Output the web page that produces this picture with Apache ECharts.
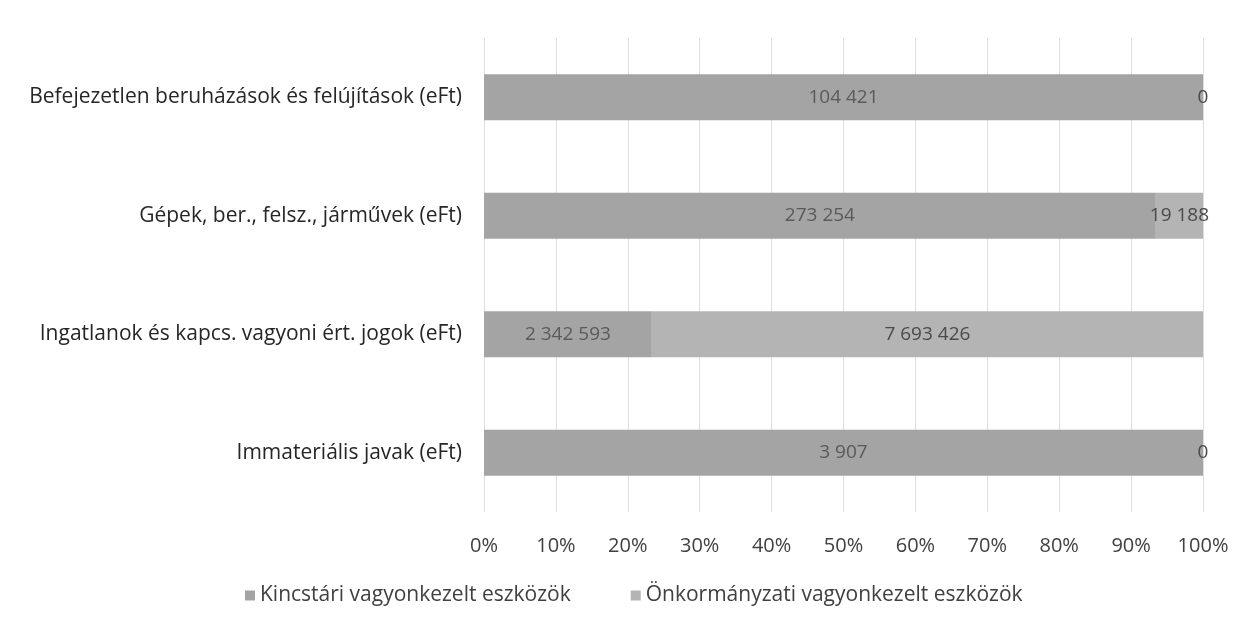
<!DOCTYPE html>
<html>
<head>
<meta charset="utf-8">
<script src="https://cdn.jsdelivr.net/npm/echarts@6/dist/echarts.min.js"></script>
<style>
  html, body { margin: 0; padding: 0; background: #fff; }
  #echarts { width: 1248px; height: 628px; }
</style>
</head>
<body>
<div id="echarts"></div>
<script>
// categories, bottom to top
var categories = [
    'Immateriális javak (eFt)',
    'Ingatlanok és kapcs. vagyoni ért. jogok (eFt)',
    'Gépek, ber., felsz., járművek (eFt)',
    'Befejezetlen beruházások és felújítások (eFt)'
];
var kincstari = [3907, 2342593, 273254, 104421];
var onkormanyzati = [0, 7693426, 19188, 0];
var seriesNames = ['Kincstári vagyonkezelt eszközök', 'Önkormányzati vagyonkezelt eszközök'];

var totals = categories.map(function (c, i) {
    return kincstari[i] + onkormanyzati[i];
});

function share(arr) {
    return arr.map(function (v, i) {
        return { value: totals[i] ? v / totals[i] : 0, raw: v };
    });
}

function fmt(n) {
    return String(n).replace(/\B(?=(\d{3})+(?!\d))/g, ' ');
}

var font = '"Open Sans", sans-serif';

var chartDom = document.getElementById('echarts');
var myChart = echarts.init(chartDom);
var option = {
    animation: false,
    grid: {
        left: 484,
        right: 45,
        top: 38,
        bottom: 116
    },
    legend: {
        left: 240,
        top: 580,
        itemWidth: 10,
        itemHeight: 10,
        itemGap: 60,
        icon: 'rect',
        textStyle: { fontFamily: font, fontSize: 21, color: '#404040' },
        data: seriesNames
    },
    xAxis: {
        type: 'value',
        min: 0,
        max: 1,
        interval: 0.1,
        axisLine: { show: false },
        axisTick: { show: false },
        splitLine: { lineStyle: { color: '#dedede', width: 1 } },
        axisLabel: {
            margin: 24,
            fontFamily: font,
            fontSize: 20,
            color: '#404040',
            formatter: function (v) { return Math.round(v * 100) + '%'; }
        }
    },
    yAxis: {
        type: 'category',
        data: categories,
        axisLine: { show: false },
        axisTick: { show: false },
        axisLabel: {
            margin: 22,
            fontFamily: font,
            fontSize: 21,
            color: '#262626'
        }
    },
    series: [
        {
            name: seriesNames[0],
            type: 'bar',
            stack: 'total',
            barWidth: '39%',
            itemStyle: { color: '#a4a4a4' },
            label: {
                show: true,
                position: 'inside',
                fontFamily: font,
                fontSize: 19,
                color: '#5a5a5a',
                formatter: function (p) { return fmt(p.data.raw); }
            },
            data: share(kincstari)
        },
        {
            name: seriesNames[1],
            type: 'bar',
            stack: 'total',
            barWidth: '39%',
            itemStyle: { color: '#b4b4b4' },
            label: {
                show: true,
                position: 'inside',
                fontFamily: font,
                fontSize: 19,
                color: '#4a4a4a',
                formatter: function (p) { return fmt(p.data.raw); }
            },
            data: share(onkormanyzati)
        }
    ]
};
myChart.setOption(option);
</script>
</body>
</html>
